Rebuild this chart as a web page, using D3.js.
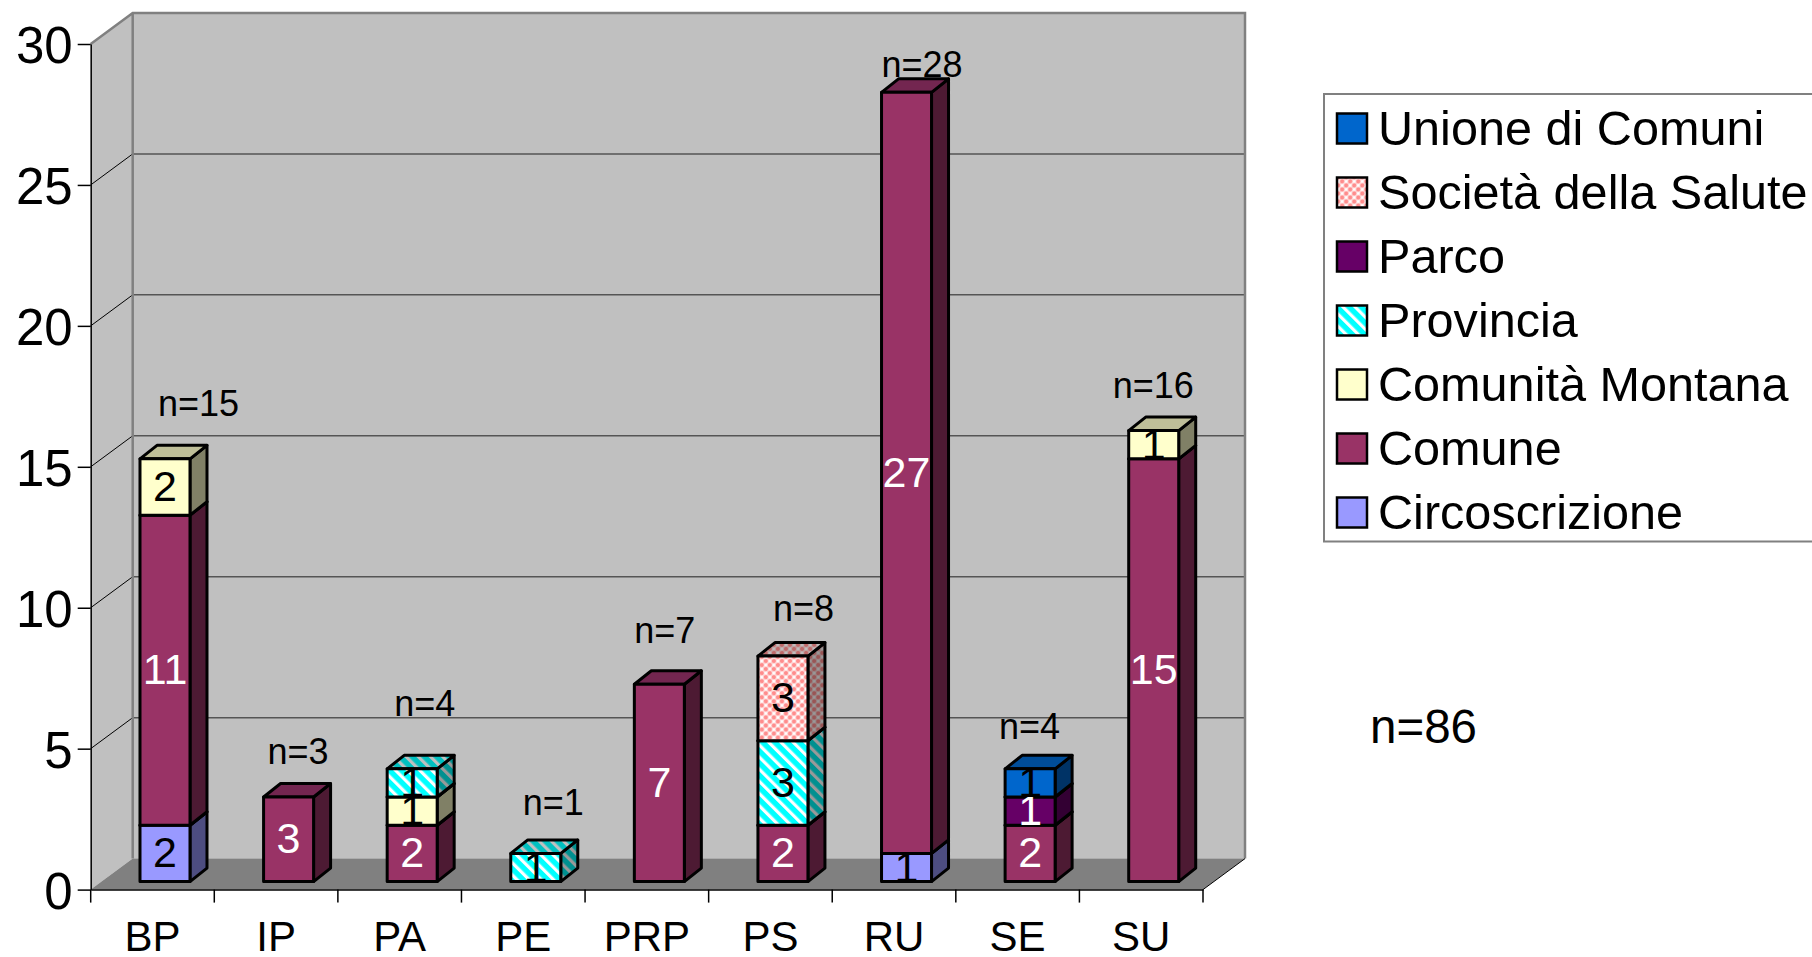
<!DOCTYPE html>
<html><head><meta charset="utf-8">
<script src="https://cdn.jsdelivr.net/npm/d3@7"></script>
<style>html,body{margin:0;padding:0;background:#fff;overflow:hidden}svg{display:block}text{font-family:"Liberation Sans",Arial,sans-serif}</style>
</head><body><svg id="c" width="1812" height="957"></svg>
<script>
const categories = ["BP","IP","PA","PE","PRP","PS","RU","SE","SU"];
const seriesNames = ["Circoscrizione","Comune","Comunità Montana","Provincia","Parco","Società della Salute","Unione di Comuni"];
const circoscrizione = [2,0,0,0,0,0,1,0,0];
const comune         = [11,3,2,0,7,2,27,2,15];
const comunita       = [2,0,1,0,0,0,0,0,1];
const provincia      = [0,0,1,1,0,3,0,0,0];
const parco          = [0,0,0,0,0,0,0,1,0];
const societa        = [0,0,0,0,0,3,0,0,0];
const unione         = [0,0,0,0,0,0,0,1,0];
const totals = [15,3,4,1,7,8,28,4,16];
const grandTotal = 86;
const yTicks = [0,5,10,15,20,25,30];

// layout (separate from the data)
const svg = d3.select("#c");
const W = {x0:90.7, x1:1203, y0:889.6, y1:44, dx:42, dy:-31};
const BAR = {w:50, dx:17, dy:-13.5, ox:12.5-25, oy:-8};
const nDx = [46,22,25,30,18,33,28,12,12];
const nDy = [-43,-33,-53,-38.5,-41.5,-35,-15,-30,-33];
const x = d3.scaleBand().domain(categories).range([W.x0,W.x1]);
const y = d3.scaleLinear().domain([0,30]).range([W.y0,W.y1]);
const rows = categories.map((c,i)=>({cat:c,"Circoscrizione":circoscrizione[i],"Comune":comune[i],"Comunità Montana":comunita[i],"Provincia":provincia[i],"Parco":parco[i],"Società della Salute":societa[i],"Unione di Comuni":unione[i]}));
const stacked = d3.stack().keys(seriesNames)(rows);

const defs = svg.append("defs");
function stripes(id,a,b){
  const p=defs.append("pattern").attr("id",id).attr("patternUnits","userSpaceOnUse").attr("width",8.6).attr("height",8.6).attr("patternTransform","rotate(-45)");
  p.append("rect").attr("width",8.6).attr("height",8.6).attr("fill",a);
  p.append("rect").attr("width",3.2).attr("height",8.6).attr("fill",b);
}
stripes("pv","#00ffff","#ffffff");
stripes("pvS","#009090","#999999");
stripes("pvT","#00c0c0","#c0c0c0");
function lattice(id,a,b,s){
  const p=defs.append("pattern").attr("id",id).attr("patternUnits","userSpaceOnUse").attr("width",s).attr("height",s).attr("patternTransform","rotate(45)");
  p.append("rect").attr("width",s).attr("height",s).attr("fill",a);
  p.append("path").attr("d",`M${s/2-0.8} 0h1.6v${s}h-1.6zM0 ${s/2-0.8}h${s}v1.6h-${s}z`).attr("fill",b).attr("opacity",0.7);
  p.append("rect").attr("x",s/2-1.5).attr("y",s/2-1.5).attr("width",3).attr("height",3).attr("fill",b);
}
lattice("so","#ff8c8c","#ffffff",5.7);
lattice("soS","#995555","#999999",5.7);
lattice("soT","#bf6a6a","#c0c0c0",5.7);

const fills = {
 "Circoscrizione":["#9999ff","#4d4d80","#7373bf"],
 "Comune":["#993366","#4d1a33","#732650"],
 "Comunità Montana":["#ffffcc","#808066","#bfbf99"],
 "Provincia":["url(#pv)","url(#pvS)","url(#pvT)"],
 "Parco":["#660066","#330033","#4d004d"],
 "Società della Salute":["url(#so)","url(#soS)","url(#soT)"],
 "Unione di Comuni":["#0066cc","#003366","#004d99"]
};
const labelColor = {"Comune":"#fff","Parco":"#fff"};
const poly = pts=>pts.map(p=>p.join(",")).join(" ");

// walls
const g = svg.append("g");
g.append("polygon").attr("points",poly([[W.x0,W.y0],[W.x0+W.dx,W.y0+W.dy],[W.x0+W.dx,W.y1+W.dy],[W.x0,W.y1]])).attr("fill","#c0c0c0");
g.append("rect").attr("x",W.x0+W.dx).attr("y",W.y1+W.dy).attr("width",W.x1-W.x0).attr("height",W.y0-W.y1).attr("fill","#c0c0c0");
g.append("polygon").attr("points",poly([[W.x0,W.y0],[W.x0+W.dx,W.y0+W.dy],[W.x1+W.dx,W.y0+W.dy],[W.x1,W.y0]])).attr("fill","#808080");
// gridlines
yTicks.filter(v=>v>0&&v<30).forEach(v=>{
  g.append("line").attr("x1",W.x0+W.dx).attr("x2",W.x1+W.dx).attr("y1",y(v)+W.dy).attr("y2",y(v)+W.dy).attr("stroke","#555").attr("stroke-width",1.5);
  g.append("line").attr("x1",W.x0).attr("x2",W.x0+W.dx).attr("y1",y(v)).attr("y2",y(v)+W.dy).attr("stroke","#000").attr("stroke-width",1);
});
// wall edges
g.append("path").attr("d",`M${W.x0} ${W.y1}L${W.x0+W.dx} ${W.y1+W.dy}H${W.x1+W.dx}V${W.y0+W.dy}M${W.x0+W.dx} ${W.y1+W.dy}V${W.y0+W.dy}`)
  .attr("fill","none").attr("stroke","#808080").attr("stroke-width",2.5);
// axes
const yAxis = d3.axisLeft(y).tickValues(yTicks).tickSize(13).tickSizeOuter(0).tickPadding(5);
const ya = svg.append("g").attr("transform",`translate(${W.x0},0)`).call(yAxis);
ya.selectAll("text").attr("font-size",51).attr("fill","#000").attr("font-family","Liberation Sans").attr("dy","0.37em");
ya.selectAll("path,line").attr("stroke","#000").attr("stroke-width",1.5);
const xAxis = d3.axisBottom(x).tickSize(0).tickPadding(0).tickSizeOuter(0);
const xa = svg.append("g").attr("transform",`translate(0,${W.y0})`).call(xAxis);
xa.selectAll("path").attr("stroke","#000").attr("stroke-width",1.5);
xa.selectAll("text").attr("font-size",42).attr("fill","#000").attr("font-family","Liberation Sans").attr("dy",0).attr("y",61.5);
const edges = categories.map(c=>x(c)).concat([W.x1]);
xa.selectAll("line.edge").data(edges).join("line").attr("class","edge").attr("x1",d=>d).attr("x2",d=>d).attr("y1",0).attr("y2",13).attr("stroke","#000").attr("stroke-width",1.5);
g.append("line").attr("x1",W.x1).attr("y1",W.y0).attr("x2",W.x1+W.dx).attr("y2",W.y0+W.dy).attr("stroke","#000").attr("stroke-width",1);

// bars
const bars = svg.append("g").attr("stroke","#000").attr("stroke-width",3).attr("stroke-linejoin","round");
const bx = c=>x(c)+x.bandwidth()/2+BAR.ox;
stacked.forEach(s=>{
  const f = fills[s.key];
  s.forEach(d=>{
    if(d[1]===d[0]) return;
    const c=d.data.cat, l=bx(c), r=l+BAR.w, t=y(d[1])+BAR.oy, b=y(d[0])+BAR.oy;
    bars.append("polygon").attr("points",poly([[r,b],[r+BAR.dx,b+BAR.dy],[r+BAR.dx,t+BAR.dy],[r,t]])).attr("fill",f[1]);
    bars.append("polygon").attr("points",poly([[l,t],[l+BAR.dx,t+BAR.dy],[r+BAR.dx,t+BAR.dy],[r,t]])).attr("fill",f[2]);
    bars.append("rect").attr("x",l).attr("y",t).attr("width",BAR.w).attr("height",b-t).attr("fill",f[0]);
  });
});
// value labels
const labels = svg.append("g").attr("font-size",43).attr("text-anchor","middle");
stacked.forEach(s=>{
  s.forEach(d=>{
    const v=d[1]-d[0]; if(!v) return;
    labels.append("text").attr("x",bx(d.data.cat)+BAR.w/2).attr("y",(y(d[0])+y(d[1]))/2+BAR.oy+14)
      .attr("fill",labelColor[s.key]||"#000").text(v);
  });
});
// n= labels
svg.append("g").attr("font-size",36).attr("text-anchor","middle").attr("fill","#000")
 .selectAll("text").data(totals).join("text")
 .attr("x",(d,i)=>x(categories[i])+x.bandwidth()/2+nDx[i])
 .attr("y",(d,i)=>y(d)+BAR.oy+nDy[i]).text(d=>"n="+d);
svg.append("text").attr("x",1370).attr("y",743).attr("font-size",47.5).text("n="+grandTotal);

// legend
const lg = svg.append("g");
lg.append("path").attr("d","M1812 94H1324V541.5H1812").attr("fill","#fff").attr("stroke","#808080").attr("stroke-width",2);
const legendOrder = seriesNames.slice().reverse();
legendOrder.forEach((n,i)=>{
  const yy=113.5+i*64;
  lg.append("rect").attr("x",1337).attr("y",yy).attr("width",30).attr("height",30).attr("fill",fills[n][0]).attr("stroke","#000").attr("stroke-width",2.5);
  lg.append("text").attr("x",1378).attr("y",yy+31).attr("font-size",48.6).attr("fill","#000").text(n);
});
</script></body></html>
